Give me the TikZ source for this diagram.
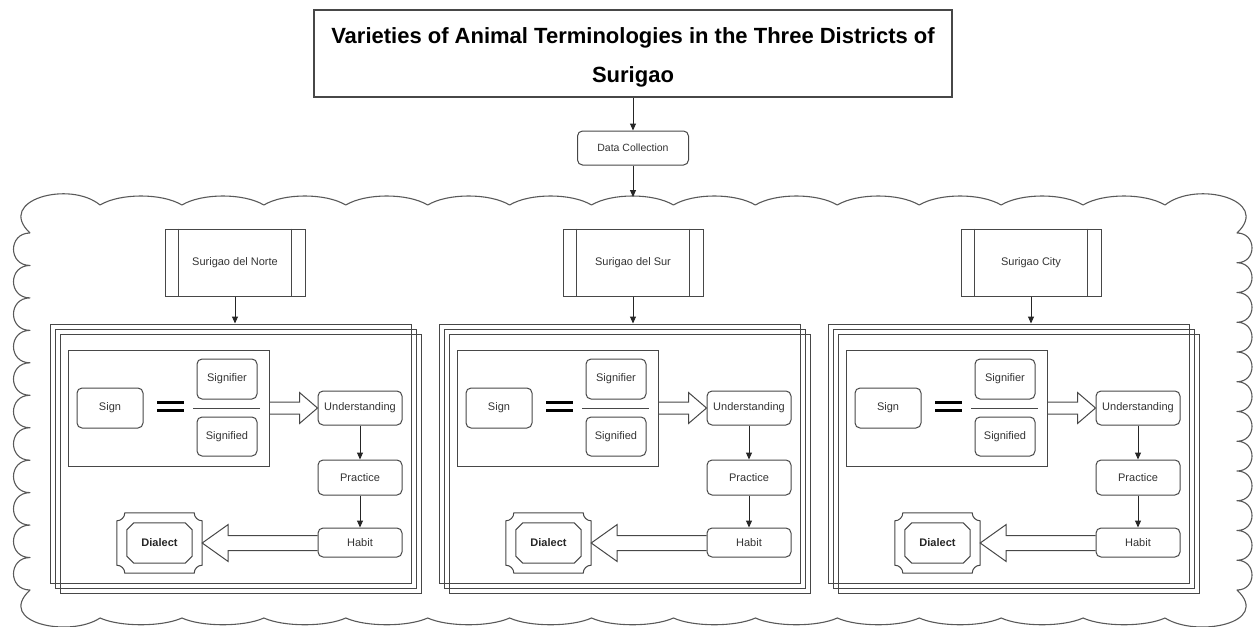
\documentclass[tikz,border=0pt]{standalone}
\usepackage{fontspec}
\setmainfont{Liberation Sans}
\usetikzlibrary{arrows.meta,calc}
\tikzset{
  ln/.style={draw=black!72, line width=1pt},
  box/.style={ln, inner sep=0pt, text=black!80, font=\fontsize{11}{13}\selectfont},
  rbox/.style={box, rounded corners=5pt},
  proc/.style={box, minimum width=140pt, minimum height=67pt},
  stackrect/.style={ln, minimum width=361pt, minimum height=259pt, inner sep=0pt},
  grpbox/.style={ln, minimum width=201pt, minimum height=116pt, inner sep=0pt},
  arr/.style={draw=black!85, line width=1pt, -{Triangle[length=7pt,width=6pt]}},
  hollowline/.style={ln, line join=miter},
  eqbar/.style={draw=black, line width=3.3pt},
  dialect/.style={inner sep=0pt, minimum width=85pt, minimum height=60pt, font=\fontsize{11}{13}\selectfont\bfseries, text=black!85},
  titlebox/.style={draw=black!72, line width=1.3pt, minimum width=638pt, minimum height=87pt, align=center, font=\fontsize{22}{39}\selectfont\bfseries, inner sep=0pt},
  cloudline/.style={draw=black!65, line width=1.1pt, line join=round},
}
% hollow arrow: #1 start point, #2 tip, #3 shaft half, #4 head half, #5 signed head length
\newcommand\hollowarr[5]{%
  \draw[hollowline] let \p1=#1, \p2=#2, \n1={\x2-(#5pt)} in
    (\x1,{\y2+#3pt}) -- (\n1,{\y2+#3pt}) -- (\n1,{\y2+#4pt}) -- (\x2,\y2)
    -- (\n1,{\y2-#4pt}) -- (\n1,{\y2-#3pt}) -- (\x1,{\y2-#3pt});}
% #1 id, #2 panel left x, #3 district box left x, #4 label
\newcommand\panel[4]{%
  \node[proc] (dist#1) at (#3+70,262.5) {#4};
  \draw[ln] ($(dist#1.north west)+(14,0)$) -- ($(dist#1.south west)+(14,0)$);
  \draw[ln] ($(dist#1.north east)+(-14,0)$) -- ($(dist#1.south east)+(-14,0)$);
  \node[stackrect] (stA#1) at (#2+180.5,453.5) {};
  \node[stackrect] (stB#1) at (#2+185.5,458.5) {};
  \node[stackrect] (stC#1) at (#2+190.5,463.5) {};
  \draw[arr] (dist#1.south) -- (dist#1.south |- stA#1.north);
  \node[grpbox] (grp#1) at (#2+118.5,408) {};
  \node[rbox, minimum width=66pt, minimum height=40pt] (sign#1) at (#2+60,408) {Sign};
  \draw[eqbar] (#2+107,402.8) -- (#2+134,402.8);
  \draw[eqbar] (#2+107,410.8) -- (#2+134,410.8);
  \draw[ln] (#2+143,408) -- (#2+210,408);
  \node[rbox, minimum width=60pt, minimum height=40pt] (sfr#1) at (#2+177,379) {Signifier};
  \node[rbox, minimum width=60pt, minimum height=39pt] (sfd#1) at (#2+177,436.5) {Signified};
  \node[rbox, minimum width=84pt, minimum height=34pt] (und#1) at (#2+310,408) {Understanding};
  \node[rbox, minimum width=84pt, minimum height=35pt] (pra#1) at (#2+310,477.5) {Practice};
  \node[rbox, minimum width=84pt, minimum height=29pt] (hab#1) at (#2+310,542.5) {Habit};
  \draw[arr] (und#1.south) -- (pra#1.north);
  \draw[arr] (pra#1.south) -- (hab#1.north);
  \node[dialect] (dia#1) at (#2+109.5,543) {Dialect};
  \draw[ln] let \p1=(dia#1.north west), \p2=(dia#1.south east) in
    ({\x1+8pt},\y1) -- ({\x2-8pt},\y1) .. controls ({\x2-8pt},{\y1-4.4pt}) and ({\x2-4.4pt},{\y1-8pt}) .. (\x2,{\y1-8pt})
    -- (\x2,{\y2+8pt}) .. controls ({\x2-4.4pt},{\y2+8pt}) and ({\x2-8pt},{\y2+4.4pt}) .. ({\x2-8pt},\y2)
    -- ({\x1+8pt},\y2) .. controls ({\x1+8pt},{\y2+4.4pt}) and ({\x1+4.4pt},{\y2+8pt}) .. (\x1,{\y2+8pt})
    -- (\x1,{\y1-8pt}) .. controls ({\x1+4.4pt},{\y1-8pt}) and ({\x1+8pt},{\y1-4.4pt}) .. cycle;
  \draw[ln] let \p1=($(dia#1.north west)+(10,10)$), \p2=($(dia#1.south east)+(-10,-10)$) in
    ({\x1+7pt},\y1) -- ({\x2-7pt},\y1) -- (\x2,{\y1-7pt}) -- (\x2,{\y2+7pt}) -- ({\x2-7pt},\y2)
    -- ({\x1+7pt},\y2) -- (\x1,{\y2+7pt}) -- (\x1,{\y1-7pt}) -- cycle;
  \hollowarr{(grp#1.east |- und#1.west)}{(und#1.west)}{6}{15.5}{18}
  \hollowarr{(hab#1.west)}{(dia#1.east)}{7.5}{18.5}{-26}
}
\begin{document}
\begin{tikzpicture}[x=1pt,y=-1pt]
\useasboundingbox (0,0) rectangle (1257,626);
% cloud
\draw[cloudline] (30,233) .. controls (-5,200) and (70,180) .. (100,205)
  foreach \k in {1,...,13} { .. controls +(20,-12) and +(-20,-12) .. ({100+81.92*\k},205) }
  .. controls (1197,180) and (1272,200) .. (1237,233)
  foreach \k in {1,...,12} { .. controls +(20,0) and +(20,0) .. (1237,{233+29.75*\k}) }
  .. controls (1272,623) and (1197,638) .. (1165,618)
  foreach \k in {1,...,13} { .. controls +(-20,9) and +(20,9) .. ({1165-81.92*\k},618) }
  .. controls (70,638) and (-5,623) .. (30,590)
  foreach \k in {1,...,11} { .. controls +(-22,0) and +(-22,0) .. (30,{590-32.4545*\k}) };
% title and data collection
\node[titlebox] (title) at (633,53.5) {\rule{0pt}{24pt}Varieties of Animal Terminologies in the Three Districts of\\Surigao};
\node[rbox, minimum width=111pt, minimum height=34pt, font=\fontsize{10.5}{12}\selectfont] (dc) at (633,148) {Data Collection};
\coordinate (cloudtop) at (633,197);
\draw[arr] (title.south) -- (dc.north);
\draw[arr] (dc.south) -- (cloudtop);
% panels
\panel{1}{50}{165}{Surigao del Norte}
\panel{2}{439}{563}{Surigao del Sur}
\panel{3}{828}{961}{Surigao City}
\end{tikzpicture}
\end{document}
